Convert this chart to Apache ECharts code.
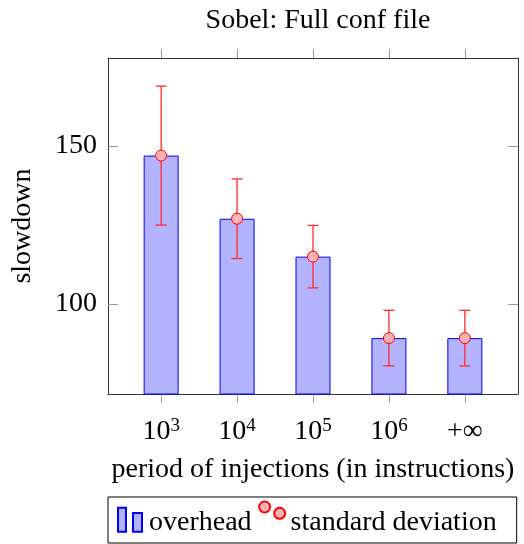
<!DOCTYPE html>
<html><head><meta charset="utf-8">
<script src="https://cdn.jsdelivr.net/npm/echarts@6/dist/echarts.min.js"></script>
<style>html,body{margin:0;padding:0;background:#fff}#c{width:524px;height:544px}</style>
</head><body><div id="c"></div>
<script>
// ---- data ----
const categories = ['10^3', '10^4', '10^5', '10^6', '+∞'];
const tickBase = ['10', '10', '10', '10', '+∞'];
const tickExp = ['3', '4', '5', '6', ''];
const overhead = [147, 127, 115, 89.2, 89.2];
const stddev = [22, 12.6, 9.9, 8.8, 8.8];
const yTickValues = [100, 150];
const yMin = 71.5, yMax = 177.9;

// ---- build ----
const FONT = 'Liberation Serif';
const FS = 28;
const catIdx = categories.map((c, i) => i);
const barData = overhead.map((v, i) => [i, v]);
const markData = overhead.map((v, i) => [i, v]);
const errData = overhead.map((v, i) => [i, v - stddev[i], v + stddev[i]]);

const barIcon = 'path://M0,0 M27,32 M1,7.7 L9,7.7 L9,31.7 L1,31.7 Z M16,13 L25,13 L25,31.7 L16,31.7 Z';
const circIcon = 'path://M0,0 M27,32 M0.5,7 A5.5,5.5 0 1 1 11.5,7 A5.5,5.5 0 1 1 0.5,7 Z M15.5,13.3 A5.5,5.5 0 1 1 26.5,13.3 A5.5,5.5 0 1 1 15.5,13.3 Z';

const axisLineStyle = { color: '#333', width: 1 };
const tickStyle = { color: '#9a9a9a', width: 1 };

const chart = echarts.init(document.getElementById('c'), null, { renderer: 'canvas' });
chart.setOption({
  animation: false,
  backgroundColor: '#fff',
  title: {
    text: 'Sobel: Full conf file',
    left: 313,
    textAlign: 'center',
    top: 2,
    textStyle: { fontFamily: FONT, fontSize: FS, fontWeight: 'normal', color: '#000' }
  },
  grid: { left: 108, right: 6, top: 58, bottom: 150 },
  legend: {
    left: 108, top: 497,
    padding: [2, 20, 6, 8],
    itemWidth: 27, itemHeight: 32, itemGap: 6,
    borderColor: '#000', borderWidth: 1,
    formatter: '{a|{name}}',
    textStyle: {
      fontFamily: FONT, fontSize: FS, color: '#000',
      rich: { a: { fontFamily: FONT, fontSize: FS, color: '#000', padding: [14, 0, 0, 0] } }
    },
    data: [
      { name: 'overhead', icon: barIcon },
      { name: 'standard deviation', icon: circIcon }
    ]
  },
  xAxis: [{
    type: 'value', position: 'bottom', min: -0.7, max: 4.7,
    name: 'period of injections (in instructions)', nameLocation: 'middle', nameGap: 62,
    nameTextStyle: { fontFamily: FONT, fontSize: FS, color: '#000' },
    axisLine: { show: true, onZero: false, lineStyle: axisLineStyle },
    axisTick: { show: true, inside: false, length: 9, lineStyle: tickStyle, customValues: catIdx },
    axisLabel: {
      customValues: catIdx, margin: 23,
      formatter: v => {
        const i = Math.round(v);
        return tickExp[i] ? '{b|' + tickBase[i] + '}{s|' + tickExp[i] + '}' : '{b|' + tickBase[i] + '}';
      },
      rich: {
        b: { fontFamily: FONT, fontSize: FS, color: '#000', lineHeight: 30 },
        s: { fontFamily: FONT, fontSize: 19, color: '#000', verticalAlign: 'top', lineHeight: 30, padding: [0, 0, 10, 0] }
      }
    },
    splitLine: { show: false }
  }, {
    type: 'value', position: 'top', min: -0.7, max: 4.7,
    axisLine: { show: true, onZero: false, lineStyle: axisLineStyle },
    axisTick: { show: true, inside: false, length: 9, lineStyle: tickStyle, customValues: catIdx },
    axisLabel: { show: false },
    splitLine: { show: false }
  }],
  yAxis: [{
    type: 'value', position: 'left', min: yMin, max: yMax,
    name: 'slowdown', nameLocation: 'middle', nameGap: 71,
    nameTextStyle: { fontFamily: FONT, fontSize: FS, color: '#000' },
    axisLine: { show: true, onZero: false, lineStyle: axisLineStyle },
    axisTick: { show: true, inside: true, length: 10, lineStyle: tickStyle, customValues: yTickValues },
    axisLabel: { customValues: yTickValues, margin: 11, fontFamily: FONT, fontSize: FS, color: '#000' },
    splitLine: { show: false }
  }, {
    type: 'value', position: 'right', min: yMin, max: yMax,
    axisLine: { show: true, onZero: false, lineStyle: axisLineStyle },
    axisTick: { show: true, inside: true, length: 10, lineStyle: tickStyle, customValues: yTickValues },
    axisLabel: { show: false },
    splitLine: { show: false }
  }],
  series: [{
    name: 'overhead', type: 'bar', xAxisIndex: 0, yAxisIndex: 0,
    data: barData, barWidth: 35, z: 1,
    itemStyle: { color: '#b3b3ff', borderColor: '#0000ff', borderWidth: 1 }
  }, {
    name: 'err', type: 'custom', xAxisIndex: 0, yAxisIndex: 0, z: 2,
    data: errData, encode: { x: 0, y: [1, 2] },
    renderItem: (params, api) => {
      const x = api.value(0);
      const lo = api.coord([x, api.value(1)]);
      const hi = api.coord([x, api.value(2)]);
      const h = 5.5;
      const st = { stroke: '#ff2a2a', lineWidth: 1.3 };
      return {
        type: 'group', children: [
          { type: 'line', shape: { x1: lo[0], y1: lo[1], x2: hi[0], y2: hi[1] }, style: st },
          { type: 'line', shape: { x1: lo[0] - h, y1: lo[1], x2: lo[0] + h, y2: lo[1] }, style: st },
          { type: 'line', shape: { x1: hi[0] - h, y1: hi[1], x2: hi[0] + h, y2: hi[1] }, style: st }
        ]
      };
    }
  }, {
    name: 'standard deviation', type: 'scatter', xAxisIndex: 0, yAxisIndex: 0, z: 3,
    data: markData, symbol: 'circle', symbolSize: 11,
    itemStyle: { color: '#ffb3b3', borderColor: '#ff0000', borderWidth: 1, opacity: 1 }
  }]
});
</script></body></html>
